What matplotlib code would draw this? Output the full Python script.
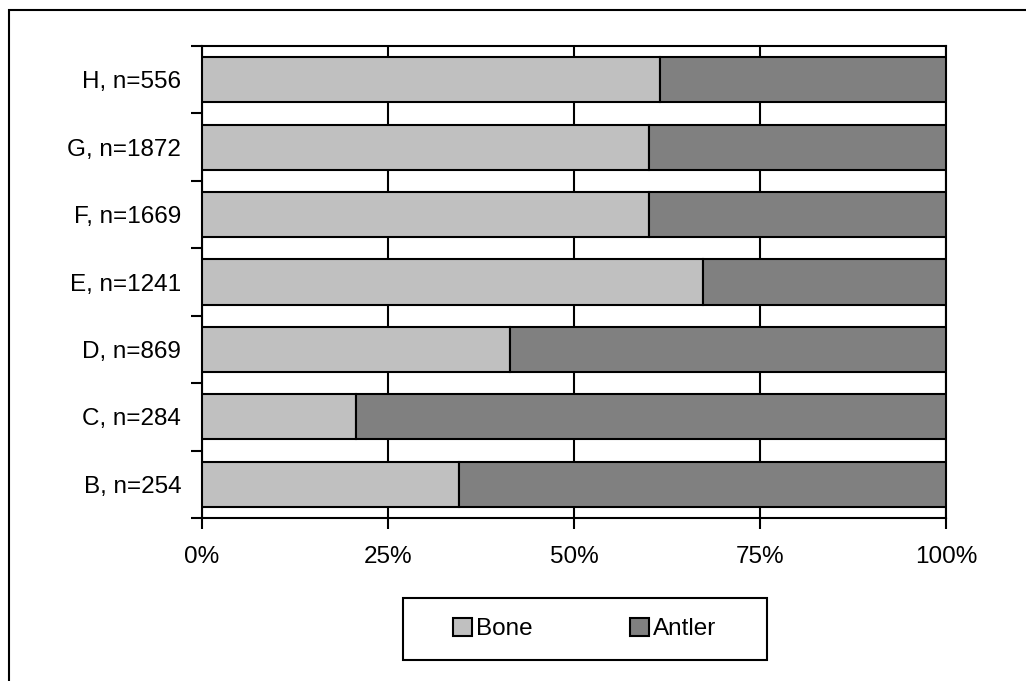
import matplotlib
matplotlib.use("Agg")
import matplotlib.pyplot as plt
from matplotlib.patches import Rectangle
from matplotlib.ticker import FixedLocator, PercentFormatter

# bone / antler share per layer (percent of n)
layers = ["B, n=254", "C, n=284", "D, n=869", "E, n=1241",
          "F, n=1669", "G, n=1872", "H, n=556"]
bone = [34.6, 20.7, 41.4, 67.3, 60.1, 60.1, 61.5]
antler = [100 - b for b in bone]

plt.rcParams['font.family'] = ['Liberation Sans', 'DejaVu Sans']

W, H = 1026, 681
fig = plt.figure(figsize=(W / 100, H / 100), dpi=100)
ax = fig.add_axes([202 / W, 1 - 518 / H, 744 / W, 472 / H])

pos = list(range(len(layers)))
ax.barh(pos, bone, height=0.67, color="#c0c0c0", edgecolor="black",
        linewidth=1.5, label="Bone", zorder=3)
ax.barh(pos, antler, left=bone, height=0.67, color="#808080",
        edgecolor="black", linewidth=1.5, label="Antler", zorder=3)

ax.set_xlim(0, 100)
ax.set_ylim(-0.5, len(layers) - 0.5)
ax.set_xticks([0, 25, 50, 75, 100])
ax.xaxis.set_major_formatter(PercentFormatter(decimals=0))
ax.xaxis.grid(True, color="black", linewidth=1.5, zorder=0)
ax.tick_params(axis="x", length=8, width=1.5, pad=12, labelsize=17.5)

ax.set_yticks(pos)
ax.set_yticklabels(layers)
ax.yaxis.set_minor_locator(FixedLocator([p - 0.5 for p in pos] + [len(layers) - 0.5]))
ax.tick_params(axis="y", which="major", length=0, pad=15, labelsize=17.5)
ax.tick_params(axis="y", which="minor", length=8, width=1.5)

for s in ax.spines.values():
    s.set_linewidth(1.5)

# legend entries without their own frame; the box is drawn separately
leg = fig.legend(loc="center", bbox_to_anchor=(585 / W, 1 - 629 / H),
                 ncol=2, fontsize=17.5, frameon=False,
                 handlelength=0.75, handleheight=0.75,
                 handletextpad=0.2, columnspacing=4.0, borderpad=0,
                 borderaxespad=0)
for h in leg.legend_handles:
    h.set_linewidth(1.5)
fig.patches.append(Rectangle((403 / W, 1 - 660 / H), 364 / W, 62 / H,
                             transform=fig.transFigure, fill=False,
                             edgecolor="black", linewidth=1.5))

# outer border around the chart
fig.patches.append(Rectangle((9 / W, -0.2), 1.2, 1.2 - 10 / H,
                             transform=fig.transFigure, fill=False,
                             edgecolor="black", linewidth=1.5))

fig.savefig("out.png", dpi=100)
